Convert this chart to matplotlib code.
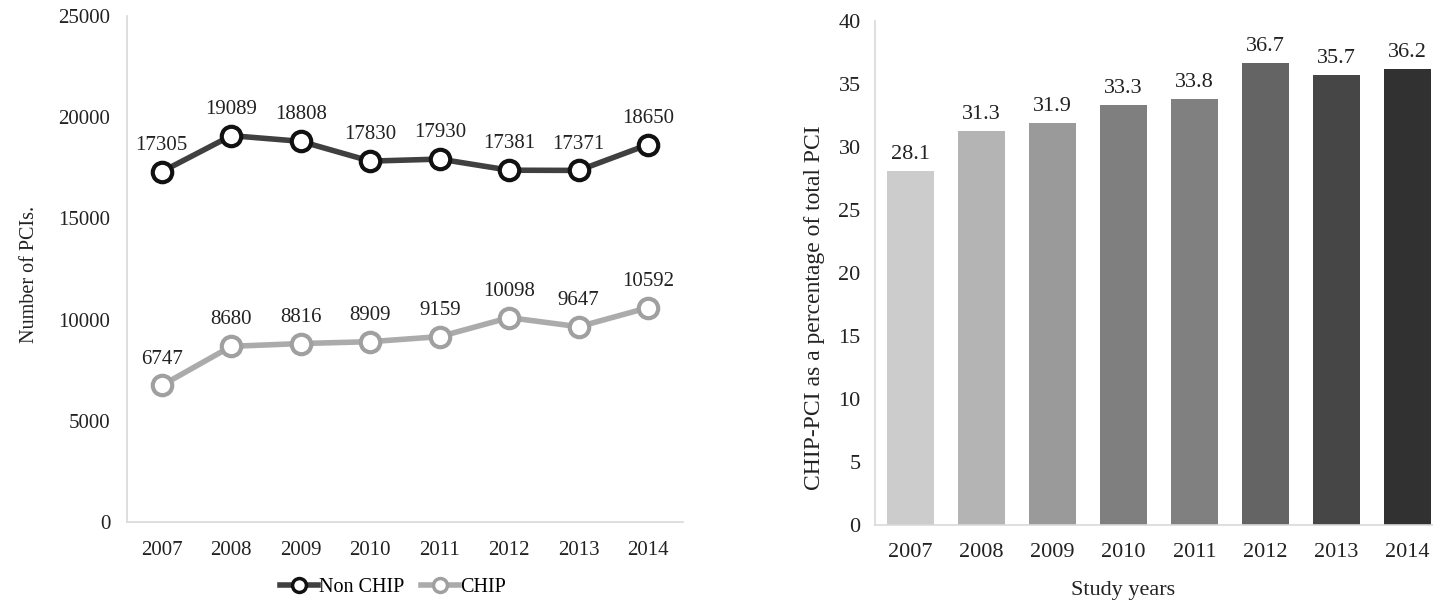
import matplotlib
matplotlib.use("Agg")
import matplotlib.pyplot as plt
from matplotlib.lines import Line2D

years = ["2007", "2008", "2009", "2010", "2011", "2012", "2013", "2014"]
non_chip = [17305, 19089, 18808, 17830, 17930, 17381, 17371, 18650]
chip = [6747, 8680, 8816, 8909, 9159, 10098, 9647, 10592]
chip_pct = [28.1, 31.3, 31.9, 33.3, 33.8, 36.7, 35.7, 36.2]
bar_colors = ["#cccccc", "#b4b4b4", "#9a9a9a", "#7f7f7f",
              "#808080", "#646464", "#464646", "#313131"]

plt.rcParams["font.family"] = ["Liberation Serif", "DejaVu Serif"]
FS_L = 15      # left panel text
FS_R = 16      # right panel text
TXT = "#222222"
W, H = 1433, 606
fig = plt.figure(figsize=(W / 100, H / 100), dpi=100)

def px_axes(x0, x1, y_top, y_bot):
    return fig.add_axes([x0 / W, (H - y_bot) / H, (x1 - x0) / W, (y_bot - y_top) / H])

spine_col = "#d9d9d9"

# ---- left panel: counts of PCIs ----
ax1 = px_axes(127, 683, 16, 522)
x = list(range(len(years)))
ax1.plot(x, non_chip, color="#404040", lw=4, marker="o", ms=14,
         mfc="white", mec="#111111", mew=3, zorder=3)
ax1.plot(x, chip, color="#ababab", lw=4, marker="o", ms=14,
         mfc="white", mec="#a0a0a0", mew=3, zorder=3)
for series in (non_chip, chip):
    for xi, v in zip(x, series):
        ax1.annotate(f"{v}", (xi, v), xytext=(0, 19), textcoords="offset points",
                     ha="center", va="center", fontsize=FS_L, color=TXT)
ax1.set_xlim(-0.5, len(years) - 0.5)
ax1.set_ylim(0, 25000)
ax1.set_yticks(range(0, 25001, 5000))
ax1.set_xticks(x)
ax1.set_xticklabels(years)
ax1.tick_params(length=0, labelsize=FS_L, colors=TXT)
ax1.tick_params(axis="x", pad=14)
ax1.tick_params(axis="y", pad=12)
for s in ["top", "right"]:
    ax1.spines[s].set_visible(False)
for s in ["left", "bottom"]:
    ax1.spines[s].set_color(spine_col)
    ax1.spines[s].set_linewidth(1.2)
ax1.set_ylabel("Number of PCIs.", fontsize=14.5, color=TXT)
ax1.yaxis.set_label_coords(-0.158, 0.49)

handles = [
    Line2D([], [], color="#404040", lw=4, marker="o", ms=10, mfc="white",
           mec="#111111", mew=2.5),
    Line2D([], [], color="#ababab", lw=4, marker="o", ms=10, mfc="white",
           mec="#a0a0a0", mew=2.5),
]
fig.legend(handles, ["Non CHIP", "CHIP"], loc="center",
           bbox_to_anchor=(393 / W, (H - 587) / H), ncol=2, frameon=False,
           fontsize=14.5, handlelength=1.9, handletextpad=0.05, columnspacing=0.8)

# ---- right panel: CHIP share of total PCI ----
ax2 = px_axes(874.5, 1443.3, 21, 525)
ax2.bar(x, chip_pct, width=0.66, color=bar_colors, zorder=2)
for xi, v in zip(x, chip_pct):
    ax2.annotate(f"{v:.1f}", (xi, v), xytext=(0, 5), textcoords="offset points",
                 ha="center", va="bottom", fontsize=FS_R, color=TXT)
ax2.set_xlim(-0.5, len(years) - 0.5)
ax2.set_ylim(0, 40)
ax2.set_yticks(range(0, 41, 5))
ax2.set_xticks(x)
ax2.set_xticklabels(years)
ax2.tick_params(length=0, labelsize=FS_R, colors=TXT)
ax2.tick_params(axis="x", pad=13)
ax2.tick_params(axis="y", pad=10)
for s in ["top", "right"]:
    ax2.spines[s].set_visible(False)
for s in ["left", "bottom"]:
    ax2.spines[s].set_color(spine_col)
    ax2.spines[s].set_linewidth(1.2)
ax2.set_ylabel("CHIP-PCI as a percentage of total PCI", fontsize=17, color=TXT)
ax2.yaxis.set_label_coords(-0.087, 0.432)
fig.text(1123 / W, (H - 590) / H, "Study years", ha="center", va="center",
         fontsize=16, color=TXT)

fig.savefig("out.png", dpi=100, facecolor="white")
